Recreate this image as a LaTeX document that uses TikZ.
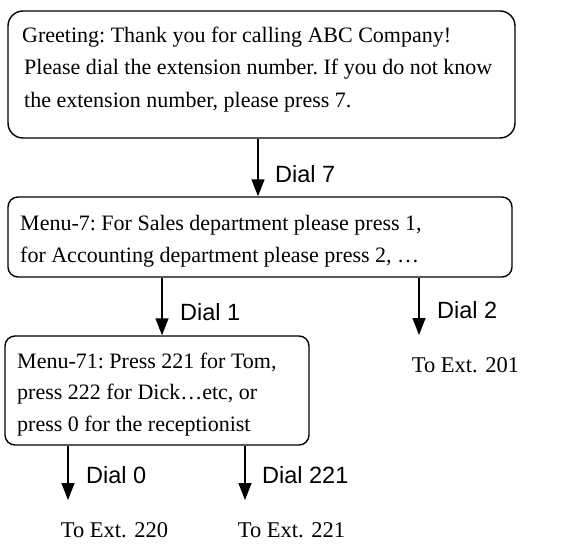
\documentclass[tikz,border=0pt]{standalone}
\usepackage{fontspec}
\setmainfont{Liberation Serif}
\setsansfont{Liberation Sans}
\usetikzlibrary{arrows.meta,calc}

\tikzset{
  menubox/.style={draw=black, line width=1.4pt, rounded corners=10pt, inner sep=0pt},
  boxtext/.style={anchor=west, inner sep=0pt, align=left,
    font=\frenchspacing\fontsize{22}{32.5}\selectfont},
  dialtext/.style={anchor=west, inner sep=0pt, font=\sffamily\fontsize{23.5}{26}\selectfont},
  exttext/.style={inner sep=0pt, font=\fontsize{22.5}{26}\selectfont},
  flow/.style={line width=1.4pt, -{Triangle[width=13pt,length=17pt]}}
}

\begin{document}
\begin{tikzpicture}[x=1pt, y=-1pt]
\useasboundingbox (0,0) rectangle (569,543);

% greeting box
\node[menubox, rounded corners=15pt, minimum width=507pt, minimum height=127pt] (greet) at (261.5,74.5) {};
\node[boxtext] (greettxt) at (22,69.5) {Greeting: Thank you for calling ABC Company!\\
\hspace{2pt}Please dial the extension number. If you do not know\\
\hspace{2pt}the extension number, please press 7.};

% menu 7
\node[menubox, minimum width=504pt, minimum height=80pt] (menu7) at (260,237) {};
\node[boxtext] (menu7txt) at (20,241) {Menu-7: For Sales department please press 1,\\
for Accounting department please press 2, \dots};

% menu 71
\node[menubox, minimum width=304pt, minimum height=109pt] (menu71) at (157,390.5) {};
\node[boxtext, font=\frenchspacing\fontsize{22}{31.8}\selectfont] (menu71txt) at (17,394.5) {Menu-71: Press 221 for Tom,\\
press 222 for Dick\dots etc, or\\
press 0 for the receptionist};

% destinations
\node[exttext] (ext201) at (465.5,365) {To Ext. 201};
\node[exttext] (ext220) at (114.5,530) {To Ext. 220};
\node[exttext] (ext221) at (291.5,530) {To Ext. 221};

% transitions
\draw[flow] (258,0 |- greet.south) -- (258,0 |- menu7.north);
\node[dialtext] (d7) at (275,174) {Dial 7};

\draw[flow] (162,0 |- menu7.south) -- (162,0 |- menu71.north);
\node[dialtext] (d1) at (180,312) {Dial 1};

\draw[flow] (419,0 |- menu7.south) -- (419,335);
\node[dialtext] (d2) at (437,310) {Dial 2};

\draw[flow] (68,0 |- menu71.south) -- (68,500);
\node[dialtext] (d0) at (86,475) {Dial 0};

\draw[flow] (245,0 |- menu71.south) -- (245,500);
\node[dialtext] (d221) at (262,475) {Dial 221};
\end{tikzpicture}
\end{document}
